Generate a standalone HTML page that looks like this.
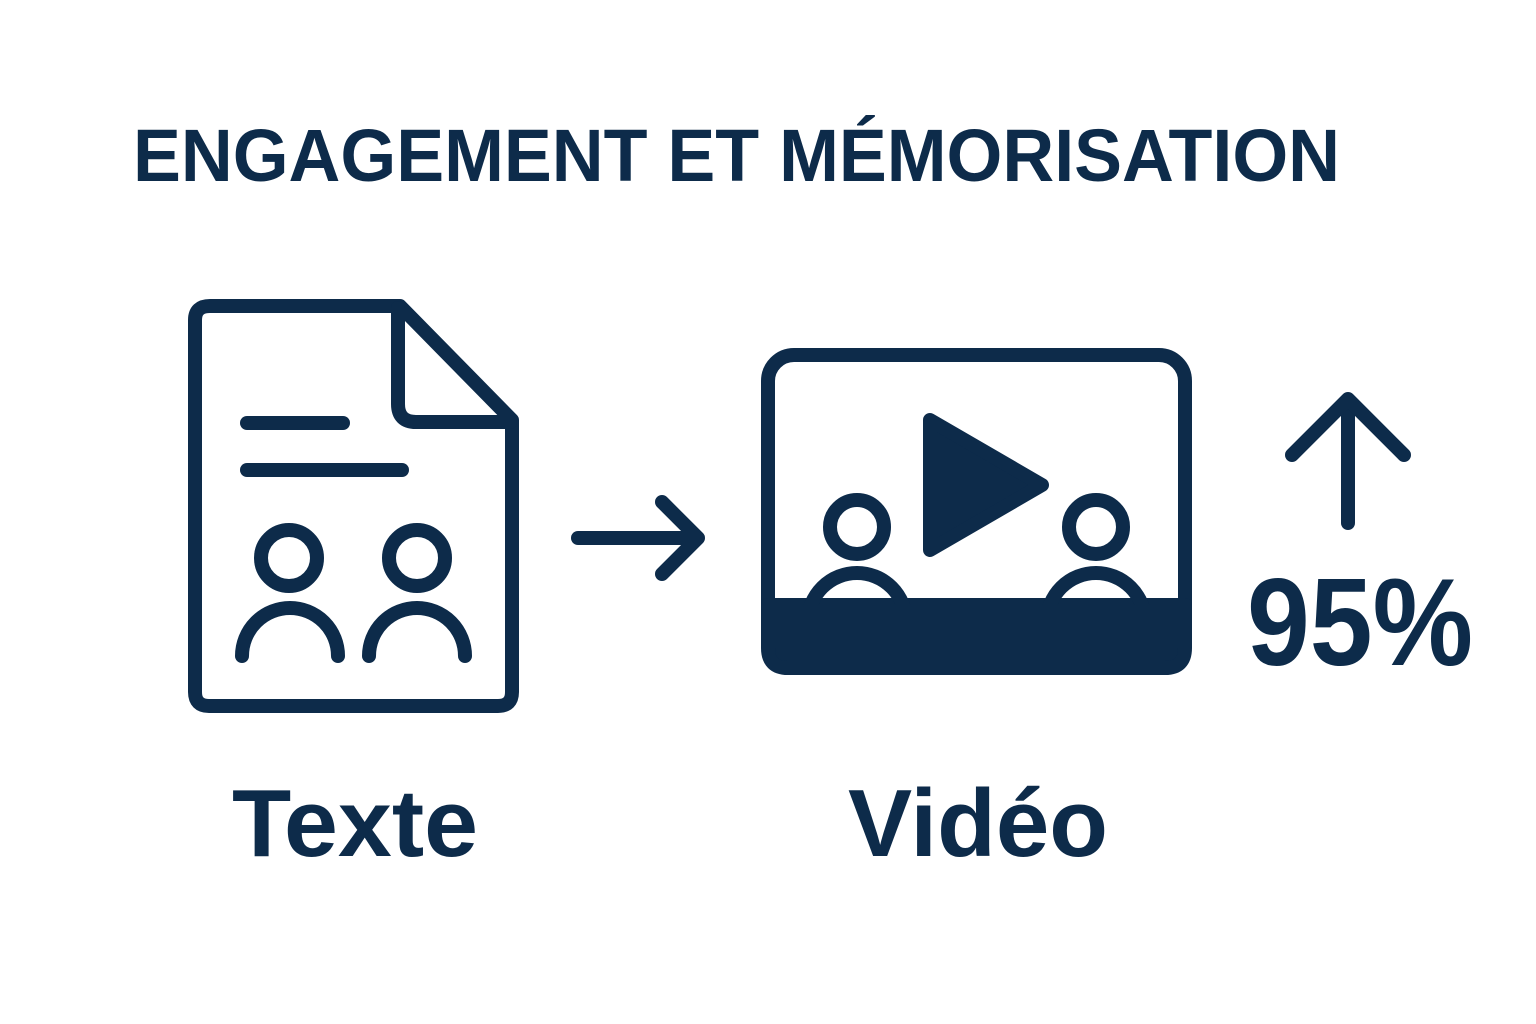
<!DOCTYPE html>
<html><head><meta charset="utf-8"><style>
html,body{margin:0;padding:0;background:#fff;}
svg{display:block;}
</style></head><body>
<svg width="1536" height="1024" viewBox="0 0 1536 1024" xmlns="http://www.w3.org/2000/svg">
<defs><clipPath id="vc"><rect x="768" y="355" width="417" height="250"/></clipPath></defs>
<g fill="none" stroke="#0d2b4a" stroke-width="14" stroke-linecap="round" stroke-linejoin="round">
<text x="133" y="181" font-family="Liberation Sans, sans-serif" font-weight="bold" font-size="74" fill="#0d2b4a" stroke="none" textLength="1207" lengthAdjust="spacingAndGlyphs">ENGAGEMENT ET MÉMORISATION</text>
<!-- document -->
<path d="M210 306 H400 L512 420 V692 Q512 706 498 706 H209 Q195 706 195 692 V320 Q195 306 210 306 Z"/>
<path d="M398 308 V404 Q398 422 416 422 H510"/>
<line x1="247" y1="423" x2="343" y2="423"/>
<line x1="247" y1="470" x2="402" y2="470"/>
<circle cx="289" cy="558" r="28"/>
<circle cx="417" cy="558" r="28"/>
<path d="M242 656 A48 48 0 0 1 338 656"/>
<path d="M369 656 A48 48 0 0 1 465 656"/>
<!-- arrow -->
<line x1="578" y1="538" x2="696" y2="538"/>
<path d="M662 502 L698 538 L662 574"/>
<!-- video -->
<rect x="768" y="355" width="417" height="313" rx="26"/>
<path d="M768 605 H1185 V648 Q1185 668 1165 668 H788 Q768 668 768 648 Z" fill="#0d2b4a"/>
<path d="M930 420 L1042 485 L930 550 Z" fill="#0d2b4a"/>
<circle cx="857" cy="527" r="27"/>
<circle cx="1096" cy="527" r="27"/>
<g clip-path="url(#vc)">
<circle cx="857" cy="622" r="49"/>
<circle cx="1096" cy="622" r="49"/>
</g>
<!-- up arrow -->
<line x1="1348" y1="402" x2="1348" y2="523"/>
<path d="M1292 455 L1348 399 L1404 455"/>
</g>
<g fill="#0d2b4a" font-family="Liberation Sans, sans-serif" font-weight="bold">
<text x="1247" y="665" font-size="124" textLength="226" lengthAdjust="spacingAndGlyphs">95%</text>
<text x="232" y="856" font-size="96" textLength="246" lengthAdjust="spacingAndGlyphs">Texte</text>
<text x="848" y="856" font-size="96" textLength="260" lengthAdjust="spacingAndGlyphs">Vidéo</text>
</g>
</svg>
</body></html>
